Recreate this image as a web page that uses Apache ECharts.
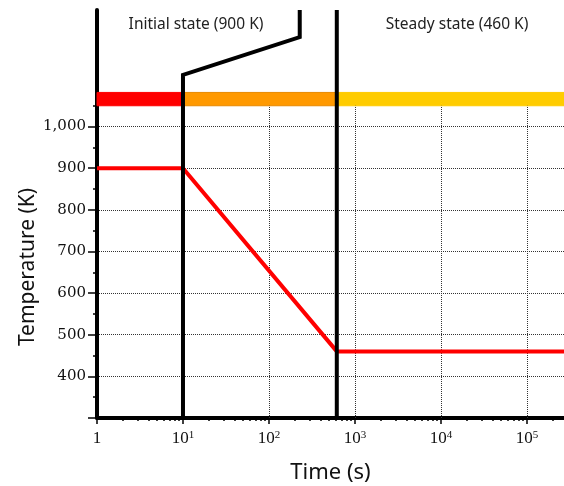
<!DOCTYPE html>
<html>
<head>
<meta charset="utf-8">
<script src="https://cdn.jsdelivr.net/npm/echarts@6/dist/echarts.min.js"></script>
<style>
    html, body { margin: 0; padding: 0; background: #fff; }
    #chart { width: 564px; height: 486px; }
</style>
</head>
<body>
<div id="chart"></div>
<script>
    // temperature history (time in s, temperature in K)
    const timeKnots = [1, 10, 615, 270000];
    const tempKnots = [900, 900, 460, 460];

    // axis ranges
    const timeMin = 1, timeMax = 270000;
    const tempMin = 300, tempMax = 1280;

    // ticks / labels
    const xDecades = [1, 10, 100, 1000, 10000, 100000];
    const xGridValues = [100, 1000, 10000, 100000];
    const yLabelValues = [400, 500, 600, 700, 800, 900, 1000];
    const yMajorTicks = [300, 400, 500, 600, 700, 800, 900, 1000];
    const yMinorTicks = [350, 450, 550, 650, 750, 850, 950, 1050];

    // stage bar on top
    const stageBounds = [1, 10, 615, 270000];
    const stageColors = ['#ff0000', '#ff9900', '#ffcc00'];
    const bandLow = 1050, bandHigh = 1082;

    // black divider lines
    const breakLine = [[10, 300], [10, 1124], [228, 1215], [228, 1280]];
    const steadyLine = [[615, 300], [615, 1280]];

    let xMinorTicks = []
    for (let d = 1; d <= 100000; d *= 10) {
        for (let k = 2; k <= 9; k++) xMinorTicks.push(k * d)
    }

    let mychart = echarts.init(document.getElementById('chart'))

    let grid = {
        left: 97, right: 0, top: 10, bottom: 68,
        containLabel: false,
        outerBoundsMode: 'none'
    }
    let dotted = { color: '#333', width: 1, type: 'dotted' }

    let options = {
        animation: false,
        grid: grid,
        xAxis: [
            {
                type: 'log', logBase: 10, min: timeMin, max: timeMax, position: 'bottom',
                name: 'Time (s)',
                nameLocation: 'middle',
                nameGap: 44,
                nameTextStyle: { fontFamily: 'Noto Sans', fontSize: 22, color: '#111' },
                axisLine: { lineStyle: { color: '#000', width: 4 } },
                axisTick: { customValues: xDecades, length: 6, lineStyle: { color: '#000', width: 1.5 } },
                axisLabel: {
                    customValues: xDecades,
                    margin: 12,
                    fontFamily: 'Liberation Serif', fontSize: 17, color: '#111',
                    formatter: function (v) {
                        let e = Math.round(Math.log10(v))
                        return e === 0 ? '1' : '10{sup|' + e + '}'
                    },
                    rich: {
                        sup: { fontFamily: 'Liberation Serif', fontSize: 11, color: '#111', verticalAlign: 'top' }
                    }
                },
                splitLine: { show: false }
            },
            {
                type: 'log', logBase: 10, min: timeMin, max: timeMax, position: 'bottom',
                axisLine: { show: false },
                axisTick: { customValues: xMinorTicks, length: 3, lineStyle: { color: '#000', width: 1.5 } },
                axisLabel: { show: false },
                splitLine: { show: false }
            }
        ],
        yAxis: [
            {
                type: 'value', min: tempMin, max: tempMax, interval: 100,
                axisLine: { show: true, lineStyle: { color: '#000', width: 4 } },
                axisTick: { show: true, customValues: yMajorTicks, length: 9, lineStyle: { color: '#000', width: 1.5 } },
                axisLabel: {
                    customValues: yLabelValues,
                    margin: 11,
                    fontFamily: 'DejaVu Serif', fontSize: 15, color: '#111',
                    formatter: function (v) { return v.toLocaleString('en-US') }
                },
                splitLine: { show: true, lineStyle: dotted }
            },
            {
                type: 'value', min: tempMin, max: tempMax, interval: 100, position: 'left',
                axisLine: { show: false },
                axisTick: { show: true, customValues: yMinorTicks, length: 4, lineStyle: { color: '#000', width: 1.5 } },
                axisLabel: { show: false },
                splitLine: { show: false }
            }
        ],
        graphic: [
            {
                type: 'text', x: 196, y: 25,
                style: { text: 'Initial state (900 K)', fontFamily: 'Noto Sans', fontSize: 15.5, fill: '#222', align: 'center', verticalAlign: 'middle' }
            },
            {
                type: 'text', x: 457, y: 25,
                style: { text: 'Steady state (460 K)', fontFamily: 'Noto Sans', fontSize: 15.5, fill: '#222', align: 'center', verticalAlign: 'middle' }
            },
            {
                type: 'text', x: 28, y: 267, rotation: Math.PI / 2,
                style: { text: 'Temperature (K)', fontFamily: 'Noto Sans', fontSize: 21, fill: '#111', align: 'center', verticalAlign: 'middle' }
            }
        ],
        series: [
            {
                // stage band + vertical grid lines
                type: 'line', data: [], silent: true, z: 1,
                markArea: {
                    silent: true,
                    data: stageColors.map(function (c, i) {
                        return [
                            { xAxis: stageBounds[i], yAxis: bandLow, itemStyle: { color: c, borderColor: i === 1 ? '#e88a00' : c, borderWidth: 1 } },
                            { xAxis: stageBounds[i + 1], yAxis: bandHigh }
                        ]
                    })
                },
                markLine: {
                    silent: true, symbol: 'none',
                    label: { show: false },
                    lineStyle: dotted,
                    data: xGridValues.map(function (v) {
                        return [{ coord: [v, tempMin] }, { coord: [v, bandLow] }]
                    })
                }
            },
            {
                type: 'line', z: 5,
                data: timeKnots.map(function (t, i) { return [t, tempKnots[i]] }),
                symbol: 'none',
                lineStyle: { color: '#ff0000', width: 4 }
            },
            {
                type: 'line', z: 6, data: breakLine, symbol: 'none',
                lineStyle: { color: '#000', width: 4, join: 'miter' }
            },
            {
                type: 'line', z: 6, data: steadyLine, symbol: 'none',
                lineStyle: { color: '#000', width: 4 }
            }
        ]
    }

    mychart.setOption(options)
</script>
</body>
</html>
